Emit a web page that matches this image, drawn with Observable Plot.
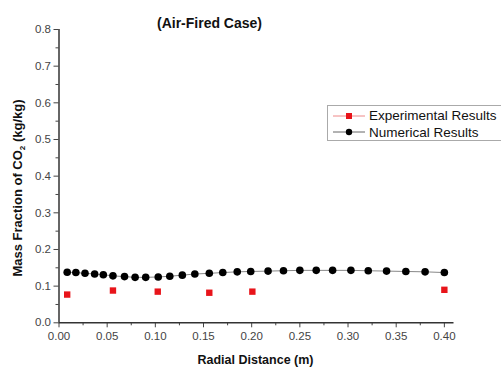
<!DOCTYPE html>
<html><head><meta charset="utf-8">
<script src="https://cdn.jsdelivr.net/npm/d3@7"></script>
<script src="https://cdn.jsdelivr.net/npm/@observablehq/plot@0.6"></script>
<style>
body{margin:0;background:#fff;font-family:"Liberation Sans",Arial,sans-serif;}
#wrap{position:relative;width:501px;height:368px;overflow:hidden;}
#legend{position:absolute;left:327px;top:105px;width:185px;height:36px;border:1px solid #aaa;background:#fff;font-size:13.5px;color:#111;box-sizing:border-box;}
.row{position:absolute;left:0;height:17px;display:flex;align-items:center;white-space:nowrap;}
.row svg{margin-left:5px;margin-right:4px;}
</style></head>
<body><div id="wrap"><div id="legend"></div></div>
<script>
const title = "(Air-Fired Case)";
const xLabel = "Radial Distance (m)";
const seriesNames = ["Experimental Results", "Numerical Results"];
const xNum = [0.0085,0.0175,0.027,0.037,0.046,0.056,0.068,0.079,0.090,0.103,0.115,0.128,0.141,0.156,0.170,0.185,0.199,0.217,0.233,0.250,0.267,0.284,0.303,0.321,0.340,0.360,0.380,0.400];
const yNum = [0.138,0.137,0.135,0.133,0.131,0.128,0.126,0.124,0.124,0.125,0.127,0.130,0.133,0.135,0.137,0.139,0.140,0.141,0.142,0.143,0.143,0.143,0.143,0.142,0.141,0.140,0.139,0.137];
const xExp = [0.0085,0.056,0.1025,0.156,0.2007,0.400];
const yExp = [0.077,0.088,0.085,0.082,0.085,0.090];
const xTicks = [0,0.05,0.10,0.15,0.20,0.25,0.30,0.35,0.40];
const yTicks = [0,0.1,0.2,0.3,0.4,0.5,0.6,0.7,0.8];
const xMinor = d3.range(0.025,0.41,0.05);
const yMinor = d3.range(0.05,0.8,0.1);

const num = xNum.map((x,i)=>({x,y:yNum[i]}));
const exp = xExp.map((x,i)=>({x,y:yExp[i]}));

const plot = Plot.plot({
  width:501, height:368,
  marginLeft:58.5, marginRight:47.5, marginTop:29, marginBottom:45.7,
  style:{fontFamily:"Liberation Sans, Arial, sans-serif", fontSize:"11.5px", color:"#444", background:"transparent"},
  x:{domain:[0,0.41]},
  y:{domain:[0,0.8]},
  marks:[
    Plot.axisX({ticks:xTicks, tickSize:5, tickFormat:d=>d.toFixed(2), label:null, fontSize:11.5, color:"#444", tickPadding:4}),
    Plot.axisX({ticks:xMinor, tickSize:3, tickFormat:()=>"" , label:null, color:"#444"}),
    Plot.axisY({ticks:yTicks, tickSize:5, tickFormat:d=>d.toFixed(1), label:null, fontSize:11.5, color:"#444", tickPadding:3}),
    Plot.axisY({ticks:yMinor, tickSize:3, tickFormat:()=>"", label:null, color:"#444"}),
    Plot.ruleX([0],{stroke:"#333", strokeWidth:1.5}),
    Plot.ruleY([0],{stroke:"#333", strokeWidth:1.5}),
    Plot.line(num,{x:"x",y:"y",stroke:"#888",strokeWidth:1}),
    Plot.dot(num,{x:"x",y:"y",r:3.8,fill:"#000",stroke:"none"}),
    Plot.dot(exp,{x:"x",y:"y",symbol:"square",r:3.6,fill:"#e8141a",stroke:"none"}),
    Plot.text([title],{frameAnchor:"top", dx:-47, dy:-11, fontWeight:"bold", fontSize:14, fill:"#111"}),
    Plot.text([xLabel],{frameAnchor:"bottom", dx:-1, dy:41, fontWeight:"bold", fontSize:12.5, fill:"#111"})
  ]
});
document.getElementById("wrap").prepend(plot);

// Y label with subscript
const svg = d3.select(plot);
const t = svg.append("text")
  .attr("transform","translate(22,188) rotate(-90)")
  .attr("text-anchor","middle")
  .attr("font-weight","bold").attr("font-size",13).attr("fill","#111");
t.append("tspan").text("Mass Fraction of CO");
t.append("tspan").attr("font-size",8).attr("dy",3).text("2");
t.append("tspan").attr("dy",-3).text(" (kg/kg)");

// legend
const leg = document.getElementById("legend");
const cfg = [{name:seriesNames[0],color:"#e8141a",sym:"sq",line:"#e88"},{name:seriesNames[1],color:"#000",sym:"c",line:"#666"}];
cfg.forEach((c,i)=>{
  const row = document.createElement("div");
  row.className="row"; row.style.top=(1+i*16.5)+"px";
  const s = d3.create("svg").attr("width",32).attr("height",12);
  s.append("line").attr("x1",0).attr("x2",32).attr("y1",6).attr("y2",6).attr("stroke",c.line).attr("stroke-width",1);
  if(c.sym==="sq") s.append("rect").attr("x",13).attr("y",3).attr("width",6).attr("height",6).attr("fill",c.color);
  else s.append("circle").attr("cx",16).attr("cy",6).attr("r",3.2).attr("fill",c.color);
  row.appendChild(s.node());
  const sp = document.createElement("span"); sp.textContent=c.name; row.appendChild(sp);
  leg.appendChild(row);
});
</script>
</body></html>
